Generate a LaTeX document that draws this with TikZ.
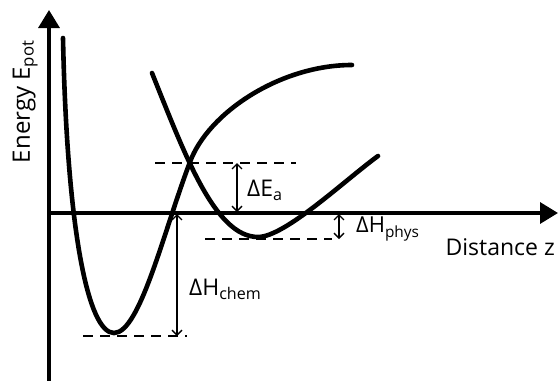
\documentclass[tikz,border=0pt]{standalone}
\usepackage{fontspec}
\setmainfont{Open Sans}
\usetikzlibrary{arrows.meta}
\begin{document}
\begin{tikzpicture}[x=1pt,y=-1pt,
  axis/.style={line width=3.4pt,-{Triangle[length=18pt,width=21pt]}},
  curve/.style={line width=4.6pt,line cap=round},
  level/.style={line width=2pt,dash pattern=on 10pt off 7pt},
  dim/.style={line width=1.3pt,{Straight Barb[length=5pt,width=10pt]}-{Straight Barb[length=5pt,width=10pt]}},
  lbl/.style={font=\fontsize{23}{27}\selectfont,inner sep=0pt}]
\useasboundingbox (0,0) rectangle (558,389);
% axes
\coordinate (o) at (49,213);
\coordinate (ytop) at (49,10);
\coordinate (ybot) at (49,381);
\coordinate (xend) at (558,213);
\draw[line width=3.4pt] (o) -- (ybot);
\draw[axis] (o) -- (ytop);
\draw[axis] (o) -- (xend);
% chemisorption curve
\coordinate (c0) at (63,38);
\coordinate (cmin) at (114,333);
\coordinate (cx) at (190,162);
\coordinate (cend) at (352,65);
\draw[curve] (c0) .. controls (67,230) and (88,333) .. (cmin)
  .. controls (140,333) and (164,230) .. (cx)
  .. controls (208,113) and (280,65) .. (cend);
% physisorption curve
\coordinate (p0) at (152,73);
\coordinate (pmin) at (258,237);
\coordinate (pend) at (378,156);
\draw[curve] (p0) .. controls (185,155) and (215,237) .. (pmin)
  .. controls (285,237) and (345,180) .. (pend);
% levels
\coordinate (ea1) at (155,163); \coordinate (ea2) at (296,163);
\coordinate (ph1) at (205,239); \coordinate (ph2) at (332,239);
\coordinate (ch1) at (83,336); \coordinate (ch2) at (187,336);
\draw[level] (ea1) -- (ea2);
\draw[level] (ph1) -- (ph2);
\draw[level] (ch1) -- (ch2);
% dimension arrows
\coordinate (eat) at (237,163); \coordinate (eab) at (237,212);
\coordinate (pht) at (339,214); \coordinate (phb) at (339,239);
\coordinate (cht) at (177,214); \coordinate (chb) at (177,336);
\draw[dim] (eat) -- (eab);
\draw[dim] (pht) -- (phb);
\draw[dim] (cht) -- (chb);
% labels
\node[lbl,anchor=west] (lea) at (247,190) {ΔE\textsubscript{a}};
\node[lbl,anchor=west,font=\fontsize{22}{26}\selectfont] (lph) at (356,229) {ΔH\textsubscript{phys}};
\node[lbl,anchor=west] (lch) at (189,289) {ΔH\textsubscript{chem}};
\node[lbl,anchor=base east] (ldz) at (555,255) {Distance z};
\node[lbl,rotate=90,anchor=base east,font=\fontsize{24}{28}\selectfont] (len) at (30,40) {Energy E\textsubscript{pot}};
\end{tikzpicture}
\end{document}
